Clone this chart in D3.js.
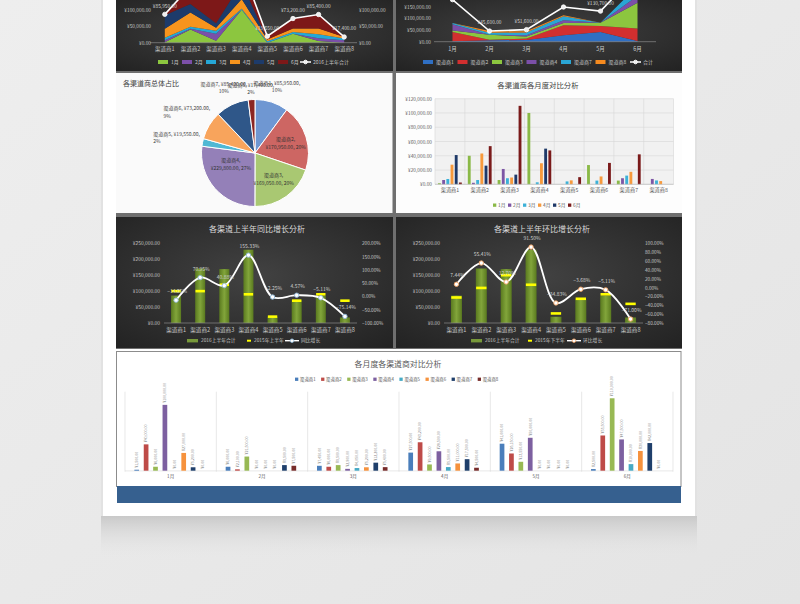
<!DOCTYPE html>
<html><head><meta charset="utf-8">
<script src="https://cdn.jsdelivr.net/npm/d3@7"></script>
<style>
html,body{margin:0;padding:0;background:#e9e9e9;}
svg{display:block;font-family:"Noto Sans CJK SC","Noto Sans",sans-serif;}
</style></head><body>
<svg id="c" width="800" height="604"></svg>
<script>
// ---------------- DATA ----------------
const channels = ["渠道商1","渠道商2","渠道商3","渠道商4","渠道商5","渠道商6","渠道商7","渠道商8"];
const months = ["1月","2月","3月","4月","5月","6月"];
// monthly sales, one array per month, values per channel 1..8
const jan = [1500, 40000, 6000, 100000, 0, 27000, 5200, 0];
const feb = [6000, 2100, 21500, 0, 0, 0, 8500, 7500];
const mar = [7450, 6000, 8500, 2800, 4050, 5200, 12200, 5400];
const apr = [27500, 43200, 9500, 29500, 5500, 11000, 17500, 4500];
const may = [41000, 26150, 13550, 50000, 0, 0, 0, 0];
const jun = [2500, 53500, 110000, 47500, 10000, 30000, 42000, 0];
const monthly = [jan, feb, mar, apr, may, jun];
const total2016 = [85950, 170950, 169050, 229800, 19550, 73200, 85400, 17400];
const h1of2015 = [100000, 100000, 120000, 90000, 20000, 70000, 90000, 70000];
const yoyPct = [-14.05, 70.95, 40.88, 155.33, -2.25, 4.57, -5.11, -75.14];
const h2of2015 = [80000, 110000, 150000, 120000, 30000, 76000, 90000, 60000];
const momPct = [7.44, 55.41, 12.70, 91.50, -34.83, -3.68, -5.11, -71.00];
// top-right area chart: series shown (channel index) and their legend names
const trSeries = [0, 1, 2, 5, 6, 7];
const trLegend = ["渠道商1","渠道商2","渠道商3","渠道商4","渠道商7","渠道商8"];
const yTicks1 = [0, 50000, 100000];
const yTicks2 = [0, 50000, 100000, 150000];
const yTicks4 = [0, 20000, 40000, 60000, 80000, 100000, 120000];
const yTicksCombo = [0, 50000, 100000, 150000, 200000, 250000];
const pctTicksYoy = [-100, -50, 0, 50, 100, 150, 200];
const pctTicksMom = [-80, -60, -40, -20, 0, 20, 40, 60, 80, 100];

// ---------------- STYLE ----------------
const monthColors = ["#8cc63f","#7b4fa8","#25a7d6","#f7941d","#1d3b6b","#7d1818"];
const barMonthColors = ["#8ab947","#7c56a5","#3cb1d8","#f79a3c","#1e3968","#7a1a1a"];
const trColors = ["#2f6fc3","#d22f2f","#8cc63f","#7b4fa8","#2aa5d4","#f58a1f"];
const pieColors = ["#6f97d2","#cd6663","#a9c872","#9480b8","#4fb8d4","#f8a45c","#2f5789","#8b2622"];
const chanColors = ["#4a7ebb","#be4b48","#98b954","#7d60a0","#46aac5","#f6923d","#1f3f6b","#772c2a"];

const yen = d => "¥" + d3.format(",.2f")(d);
const pct = d => d3.format(".2f")(d) + "%";

const svg = d3.select("#c");
const defs = svg.append("defs");

function styleAxis(g, color, size){
  g.attr("font-size", null).attr("font-family", null);
  g.select(".domain").remove();
  g.selectAll(".tick line").remove();
  g.selectAll("text").attr("fill", color).style("font-size", size + "px");
}

// background & page
const bgG = defs.append("linearGradient").attr("id","bgG").attr("x1",0).attr("y1",0).attr("x2",1).attr("y2",1);
bgG.append("stop").attr("offset","0%").attr("stop-color","#eeeeee");
bgG.append("stop").attr("offset","100%").attr("stop-color","#e4e4e4");
svg.append("rect").attr("width",800).attr("height",604).attr("fill","url(#bgG)");
const shG = defs.append("linearGradient").attr("id","shG").attr("x1",0).attr("y1",0).attr("x2",0).attr("y2",1);
shG.append("stop").attr("offset","0%").attr("stop-color","#c6c6c6");
shG.append("stop").attr("offset","100%").attr("stop-color","#e8e8e8").attr("stop-opacity",0);
svg.append("rect").attr("x",101).attr("y",514).attr("width",596).attr("height",45).attr("fill","url(#shG)");
svg.append("rect").attr("x",101).attr("y",0).attr("width",596).attr("height",516).attr("fill","#e2e2e2");
svg.append("rect").attr("x",103).attr("y",0).attr("width",592).attr("height",516).attr("fill","#ffffff");

// dark gradient
const dk = defs.append("radialGradient").attr("id","dark").attr("cx","50%").attr("cy","45%").attr("r","75%");
dk.append("stop").attr("offset","0%").attr("stop-color","#424242");
dk.append("stop").attr("offset","100%").attr("stop-color","#222222");
const ol = defs.append("linearGradient").attr("id","olive").attr("x1",0).attr("y1",0).attr("x2",1).attr("y2",0);
ol.append("stop").attr("offset","0%").attr("stop-color","#5a7a1f");
ol.append("stop").attr("offset","50%").attr("stop-color","#82a53b");
ol.append("stop").attr("offset","100%").attr("stop-color","#5a7a1f");

// frame
svg.append("rect").attr("x",116).attr("y",0).attr("width",566).attr("height",349).attr("fill","#6f6f6f");
const panel = (x,y,w,h,fill) => svg.append("rect").attr("x",x).attr("y",y).attr("width",w).attr("height",h).attr("fill",fill);
panel(116,0,277,71,"url(#dark)");
panel(396,0,286,71,"url(#dark)");
panel(116,73,276.5,140,"#fafafa");
panel(396,73,286,140,"#fdfdfd");
panel(116,217,277,131,"url(#dark)");
panel(396,217,286,131,"url(#dark)");
svg.append("rect").attr("x",116.5).attr("y",351.5).attr("width",564.5).attr("height",135).attr("fill","#fff").attr("stroke","#8c8c8c");
svg.append("rect").attr("x",117).attr("y",486).attr("width",564).attr("height",17).attr("fill","#36608f");

function legendText(g, x, y, t, color, size){
  g.append("text").attr("x",x).attr("y",y).attr("dy","0.35em").attr("fill",color).style("font-size",size+"px").text(t);
}

// ============ CHART 1: stacked area by channel ============
(function(){
  defs.append("clipPath").attr("id","clip1").append("rect").attr("x",116).attr("y",0).attr("width",277).attr("height",71);
  const g = svg.append("g").attr("clip-path","url(#clip1)");
  const x = d3.scaleBand().domain(channels).range([152, 357]);
  const y = d3.scaleLinear().domain([0, 100000]).range([42.7, 9.7]);
  const cx = c => x(c) + x.bandwidth()/2;
  const rows = channels.map((c,i) => { const o = {ch:c}; months.forEach((m,j) => o[m] = monthly[j][i]); return o; });
  const st = d3.stack().keys(months)(rows);
  const area = d3.area().x(d => cx(d.data.ch)).y0(d => y(d[0])).y1(d => y(d[1]));
  g.selectAll("path.ar").data(st).join("path").attr("class","ar").attr("d", area).attr("fill",(d,i)=>monthColors[i]);
  g.append("line").attr("x1",150).attr("x2",357).attr("y1",y(0)).attr("y2",y(0)).attr("stroke","#8a8a8a").attr("stroke-width",0.7);
  g.append("g").attr("transform","translate(151,0)")
    .call(d3.axisLeft(y).tickValues(yTicks1).tickSize(0).tickPadding(0).tickFormat(yen)).call(styleAxis,"#c8c8c8",4.8);
  g.append("g").attr("transform","translate(359,0)")
    .call(d3.axisRight(y).tickValues(yTicks1).tickSize(0).tickPadding(0).tickFormat(yen)).call(styleAxis,"#c8c8c8",4.8);
  g.append("g").attr("transform","translate(0,44)")
    .call(d3.axisBottom(x).tickSize(0).tickPadding(3)).call(styleAxis,"#c8c8c8",5.5);
  const line = d3.line().x((d,i)=>cx(channels[i])).y(d=>y(d));
  g.append("path").datum(total2016).attr("d",line).attr("fill","none").attr("stroke","#ffffff").attr("stroke-width",1.6);
  g.selectAll("circle.p").data(total2016).join("circle").attr("class","p")
    .attr("cx",(d,i)=>cx(channels[i])).attr("cy",d=>y(d)).attr("r",2.2).attr("fill","#eeeeee").attr("stroke","#ffffff").attr("stroke-width",0.8);
  const vis = total2016.map((d,i)=>({d,i})).filter(o => y(o.d) - 6.5 > 4);
  g.selectAll("text.lb").data(vis).join("text").attr("class","lb")
    .attr("x",o=>cx(channels[o.i])).attr("y",o=>y(o.d)-6.5).attr("text-anchor","middle")
    .attr("fill","#d9d9d9").style("font-size","4.8px").text(o=>yen(o.d));
  const lg = g.append("g");
  months.forEach((m,i)=>{
    const lx = 158 + i*24;
    lg.append("rect").attr("x",lx).attr("y",60).attr("width",10).attr("height",4).attr("fill",monthColors[i]);
    legendText(lg, lx+13, 62, m, "#c8c8c8", 5);
  });
  const lx = 300;
  lg.append("line").attr("x1",lx).attr("x2",lx+11).attr("y1",62).attr("y2",62).attr("stroke","#fff").attr("stroke-width",1.5);
  lg.append("circle").attr("cx",lx+5.5).attr("cy",62).attr("r",1.8).attr("fill","#eee").attr("stroke","#fff");
  legendText(lg, lx+13, 62, "2016上半年合计", "#c8c8c8", 5);
})();

// ============ CHART 2: stacked area by month ============
(function(){
  defs.append("clipPath").attr("id","clip2").append("rect").attr("x",396).attr("y",0).attr("width",286).attr("height",71);
  const g = svg.append("g").attr("clip-path","url(#clip2)");
  const x = d3.scaleBand().domain(months).range([434, 656]);
  const y = d3.scaleLinear().domain([0,150000]).range([41.7, 6.6]);
  const cx = m => x(m) + x.bandwidth()/2;
  const rows = months.map((m,j) => { const o = {m}; trSeries.forEach((ci,k)=> o[trLegend[k]] = monthly[j][ci]); return o; });
  const st = d3.stack().keys(trLegend)(rows);
  const area = d3.area().x(d=>cx(d.data.m)).y0(d=>y(d[0])).y1(d=>y(d[1]));
  g.selectAll("path.ar").data(st).join("path").attr("class","ar").attr("d",area).attr("fill",(d,i)=>trColors[i]);
  g.append("line").attr("x1",434).attr("x2",656).attr("y1",y(0)).attr("y2",y(0)).attr("stroke","#8a8a8a").attr("stroke-width",0.7);
  g.append("g").attr("transform","translate(431,0)")
    .call(d3.axisLeft(y).tickValues(yTicks2).tickSize(0).tickPadding(0).tickFormat(yen)).call(styleAxis,"#c8c8c8",4.8);
  g.append("g").attr("transform","translate(0,44)")
    .call(d3.axisBottom(x).tickSize(0).tickPadding(3)).call(styleAxis,"#c8c8c8",5.5);
  const totals = monthly.map(a => d3.sum(a));
  const line = d3.line().x((d,i)=>cx(months[i])).y(d=>y(d));
  g.append("path").datum(totals).attr("d",line).attr("fill","none").attr("stroke","#fff").attr("stroke-width",1.6);
  g.selectAll("circle.p").data(totals).join("circle").attr("class","p")
    .attr("cx",(d,i)=>cx(months[i])).attr("cy",d=>y(d)).attr("r",2.2).attr("fill","#eee").attr("stroke","#fff").attr("stroke-width",0.8);
  const vis = totals.map((d,i)=>({d,i})).filter(o => y(o.d) - 7 > 1);
  g.selectAll("text.lb").data(vis).join("text").attr("class","lb")
    .attr("x",o=>cx(months[o.i])).attr("y",o=>Math.max(y(o.d)-7, 4.5)).attr("text-anchor","middle")
    .attr("fill","#d9d9d9").style("font-size","4.8px").text(o=>yen(o.d));
  const lg = g.append("g");
  trLegend.forEach((n,i)=>{
    const lx = 423 + i*34.5;
    lg.append("rect").attr("x",lx).attr("y",60).attr("width",10).attr("height",4).attr("fill",trColors[i]);
    legendText(lg, lx+13, 62, n, "#c8c8c8", 5);
  });
  const lx = 630;
  lg.append("line").attr("x1",lx).attr("x2",lx+11).attr("y1",62).attr("y2",62).attr("stroke","#fff").attr("stroke-width",1.5);
  lg.append("circle").attr("cx",lx+5.5).attr("cy",62).attr("r",1.8).attr("fill","#eee").attr("stroke","#fff");
  legendText(lg, lx+13, 62, "合计", "#c8c8c8", 5);
})();

// ============ CHART 3: pie ============
(function(){
  const g = svg.append("g");
  g.append("text").attr("x",123).attr("y",86).attr("fill","#404040").style("font-size","7px").text("各渠道商总体占比");
  const cxp = 255, cyp = 153, R = 53.5;
  const sum = d3.sum(total2016);
  const arcs = d3.pie().sort(null).value(d=>d)(total2016);
  const arc = d3.arc().innerRadius(0).outerRadius(R);
  pieColors.forEach((c,i)=>{
    const rg = defs.append("radialGradient").attr("id","pg"+i).attr("gradientUnits","userSpaceOnUse")
      .attr("cx",cxp).attr("cy",cyp).attr("r",R);
    rg.append("stop").attr("offset","0%").attr("stop-color",d3.color(c).brighter(0.5));
    rg.append("stop").attr("offset","100%").attr("stop-color",c);
  });
  const pg = g.append("g").attr("transform",`translate(${cxp},${cyp})`);
  pg.selectAll("path").data(arcs).join("path").attr("d",arc)
    .attr("fill",(d,i)=>`url(#pg${i})`).attr("stroke","#ffffff").attr("stroke-width",1);
  const fs = 5;
  arcs.forEach((a,i)=>{
    const span = a.endAngle - a.startAngle;
    const mid = (a.startAngle + a.endAngle)/2;
    const share = d3.format(".0%")(total2016[i]/sum);
    const s = Math.sin(mid), c = Math.cos(mid);
    const tg = g.append("g");
    if (span > 1.0) {
      const px = cxp + s*R*0.6, py = cyp - c*R*0.6 - (span > 1.6 ? 10 : 0);
      tg.append("text").attr("x",px).attr("y",py-2).attr("text-anchor","middle").attr("fill","#333").style("font-size",fs+"px").text(channels[i]+",");
      tg.append("text").attr("x",px).attr("y",py+5.5).attr("text-anchor","middle").attr("fill","#333").style("font-size",fs+"px").text(yen(total2016[i])+", "+share);
    } else {
      const t1 = tg.append("text").attr("fill","#404040").style("font-size",fs+"px").text(channels[i]+", "+yen(total2016[i])+",");
      const w = t1.node().getComputedTextLength();
      const hw = w/2, hh = 8;
      const dist = R + 2 + hw*Math.abs(s) + hh*Math.abs(c);
      const px = cxp + s*dist, py = cyp - c*dist;
      t1.attr("x",px).attr("y",py-1.5).attr("text-anchor","middle");
      const left = Math.abs(s) > 0.8;
      tg.append("text").attr("x", left ? px - hw : px).attr("y",py+6)
        .attr("text-anchor", left ? "start" : "middle").attr("fill","#404040").style("font-size",fs+"px").text(share);
    }
  });
})();

// ============ CHART 4: grouped bars per channel ============
(function(){
  const g = svg.append("g");
  g.append("text").attr("x",538).attr("y",88).attr("text-anchor","middle").attr("fill","#404040").style("font-size","7.4px").text("各渠道商各月度对比分析");
  const x = d3.scaleBand().domain(channels).range([435, 673.5]);
  const xi = d3.scaleBand().domain(months).range([3, x.bandwidth()-3]).paddingInner(0.32);
  const y = d3.scaleLinear().domain([0,120000]).range([184.3, 98.7]);
  g.append("rect").attr("x",435).attr("y",98.7).attr("width",238.5).attr("height",85.6).attr("fill","#f1f1f1");
  g.selectAll("line.h").data(yTicks4).join("line").attr("class","h")
    .attr("x1",435).attr("x2",673.5).attr("y1",d=>y(d)).attr("y2",d=>y(d)).attr("stroke","#d6d6d6").attr("stroke-width",0.6);
  g.selectAll("line.v").data(channels.concat(["_end"])).join("line").attr("class","v")
    .attr("x1",(d,i)=> i<8 ? x(d) : 673.5).attr("x2",(d,i)=> i<8 ? x(d) : 673.5)
    .attr("y1",98.7).attr("y2",184.3).attr("stroke","#d6d6d6").attr("stroke-width",0.6);
  channels.forEach((c,i)=>{
    g.selectAll(null).data(months).join("rect")
      .attr("x",m=>x(c)+xi(m)).attr("width",xi.bandwidth())
      .attr("y",(m,j)=>y(monthly[j][i])).attr("height",(m,j)=>y(0)-y(monthly[j][i]))
      .attr("fill",(m,j)=>barMonthColors[j]);
  });
  g.append("line").attr("x1",435).attr("x2",673.5).attr("y1",y(0)).attr("y2",y(0)).attr("stroke","#bfbfbf").attr("stroke-width",0.7);
  g.append("g").attr("transform","translate(432,0)")
    .call(d3.axisLeft(y).tickValues(yTicks4).tickSize(0).tickPadding(0).tickFormat(yen)).call(styleAxis,"#595959",4.8);
  g.append("g").attr("transform","translate(0,185)")
    .call(d3.axisBottom(x).tickSize(0).tickPadding(3)).call(styleAxis,"#595959",5.2);
  months.forEach((m,i)=>{
    const lx = 493 + i*15;
    g.append("rect").attr("x",lx).attr("y",203.5).attr("width",3.3).attr("height",3.3).attr("fill",barMonthColors[i]);
    legendText(g, lx+5, 205.2, m, "#595959", 4.8);
  });
})();

// ============ COMBO CHARTS ============
function combo(opt){
  const g = svg.append("g");
  g.append("text").attr("x",opt.titleX).attr("y",231.5).attr("text-anchor","middle").attr("fill","#d9d9d9").style("font-size","8px").text(opt.title);
  const x = d3.scaleBand().domain(channels).range(opt.xr);
  const cx = c => x(c) + x.bandwidth()/2;
  const y = d3.scaleLinear().domain([0,250000]).range([323, 243.3]);
  const yr = d3.scaleLinear().domain(opt.pctDomain).range([323, 243.3]);
  const bw = opt.barW;
  g.selectAll("rect.b").data(total2016).join("rect").attr("class","b")
    .attr("x",(d,i)=>cx(channels[i])-bw/2).attr("width",bw)
    .attr("y",d=>y(d)).attr("height",d=>y(0)-y(d)).attr("fill","url(#olive)");
  g.append("line").attr("x1",opt.xr[0]).attr("x2",opt.xr[1]).attr("y1",323).attr("y2",323).attr("stroke","#8a8a8a").attr("stroke-width",0.7);
  g.selectAll("rect.m").data(opt.prev).join("rect").attr("class","m")
    .attr("x",(d,i)=>cx(channels[i])-bw*0.47).attr("width",bw*0.94)
    .attr("y",d=>y(d)-1.3).attr("height",2.6).attr("fill","#ffff00");
  const pts = opt.pct.map((d,i)=>[cx(channels[i]), yr(d)]);
  g.append("path").datum(pts).attr("d",d3.line().curve(d3.curveCatmullRom.alpha(0.5)))
    .attr("fill","none").attr("stroke","#ffffff").attr("stroke-width",1.8);
  g.selectAll("circle.p").data(pts).join("circle").attr("class","p")
    .attr("cx",d=>d[0]).attr("cy",d=>d[1]).attr("r",2.2).attr("fill","#ffffff").attr("stroke",opt.markStroke).attr("stroke-width",0.9);
  g.selectAll("text.lb").data(opt.pct).join("text").attr("class","lb")
    .attr("x",(d,i)=>pts[i][0]+1).attr("y",(d,i)=>pts[i][1]-7).attr("text-anchor","middle")
    .attr("fill","#d0d0d0").style("font-size","5px").text(pct);
  g.append("g").attr("transform",`translate(${opt.xr[0]-4},0)`)
    .call(d3.axisLeft(y).tickValues(yTicksCombo).tickSize(0).tickPadding(0).tickFormat(yen)).call(styleAxis,"#c8c8c8",4.9);
  g.append("g").attr("transform",`translate(${opt.rightX},0)`)
    .call(d3.axisRight(yr).tickValues(opt.pctTicks).tickSize(0).tickPadding(0).tickFormat(pct)).call(styleAxis,"#c8c8c8",4.7);
  g.append("g").attr("transform","translate(0,325)")
    .call(d3.axisBottom(x).tickSize(0).tickPadding(3)).call(styleAxis,"#c8c8c8",5.6);
  const L = opt.leg, ly = 340.7;
  g.append("rect").attr("x",L[0]).attr("y",ly-1.7).attr("width",11).attr("height",3.4).attr("fill","#77983a");
  legendText(g, L[0]+14, ly, "2016上半年合计", "#c8c8c8", 4.8);
  g.append("rect").attr("x",L[1]).attr("y",ly-1).attr("width",4).attr("height",2).attr("fill","#ffff00");
  legendText(g, L[1]+7, ly, opt.prevName, "#c8c8c8", 4.8);
  g.append("line").attr("x1",L[2]).attr("x2",L[2]+14).attr("y1",ly).attr("y2",ly).attr("stroke","#fff").attr("stroke-width",1.4);
  g.append("circle").attr("cx",L[2]+7).attr("cy",ly).attr("r",1.8).attr("fill","#fff").attr("stroke",opt.markStroke).attr("stroke-width",0.8);
  legendText(g, L[2]+16, ly, opt.lineName, "#c8c8c8", 4.8);
}
combo({title:"各渠道上半年同比增长分析", titleX:257, xr:[164,357], barW:10, prev:h1of2015, pct:yoyPct,
  pctDomain:[-100,200], pctTicks:pctTicksYoy, rightX:362, markStroke:"#8fb8d8",
  leg:[187,247,285], prevName:"2015年上半年", lineName:"同比增长"});
combo({title:"各渠道上半年环比增长分析", titleX:542, xr:[444,643], barW:11, prev:h2of2015, pct:momPct,
  pctDomain:[-80,100], pctTicks:pctTicksMom, rightX:645, markStroke:"#f0a060",
  leg:[471,528,567], prevName:"2015年下半年", lineName:"环比增长"});

// ============ CHART 7: grouped bars per month ============
(function(){
  const g = svg.append("g");
  g.append("text").attr("x",398).attr("y",367).attr("text-anchor","middle").attr("fill","#595959").style("font-size","7.9px").text("各月度各渠道商对比分析");
  channels.forEach((c,i)=>{
    const lx = 295 + i*26.1;
    g.append("rect").attr("x",lx).attr("y",377.6).attr("width",3.3).attr("height",3.3).attr("fill",chanColors[i]);
    legendText(g, lx+5, 379.3, c, "#595959", 4.4);
  });
  const x = d3.scaleBand().domain(months).range([125, 673]);
  const xi = d3.scaleBand().domain(channels).range([7, 82.2]).paddingInner(0.5).paddingOuter(0.25);
  const y = d3.scaleLinear().domain([0,120000]).range([470.7, 391.7]);
  g.selectAll("line.v").data(months.concat(["_end"])).join("line").attr("class","v")
    .attr("x1",(d,i)=> i<6 ? x(d) : 673).attr("x2",(d,i)=> i<6 ? x(d) : 673)
    .attr("y1",391.7).attr("y2",471.7).attr("stroke","#d9d9d9").attr("stroke-width",0.6);
  g.append("line").attr("x1",125).attr("x2",673).attr("y1",470.9).attr("y2",470.9).attr("stroke","#d9d9d9").attr("stroke-width",0.6);
  months.forEach((m,j)=>{
    const vals = monthly[j];
    g.selectAll(null).data(vals).join("rect")
      .attr("x",(d,i)=>x(m)+xi(channels[i])).attr("width",xi.bandwidth())
      .attr("y",d=>y(d)).attr("height",d=>y(0)-y(d)).attr("fill",(d,i)=>chanColors[i]);
    g.selectAll(null).data(vals).join("text")
      .attr("transform",(d,i)=>`translate(${x(m)+xi(channels[i])+xi.bandwidth()/2+1.3},${y(d)-2}) rotate(-90)`)
      .attr("fill","#7f7f7f").style("font-size","3.6px").text(yen);
  });
  g.append("g").attr("transform","translate(0,473)")
    .call(d3.axisBottom(x).tickSize(0).tickPadding(2)).call(styleAxis,"#595959",4.6);
})();
</script>
</body></html>
